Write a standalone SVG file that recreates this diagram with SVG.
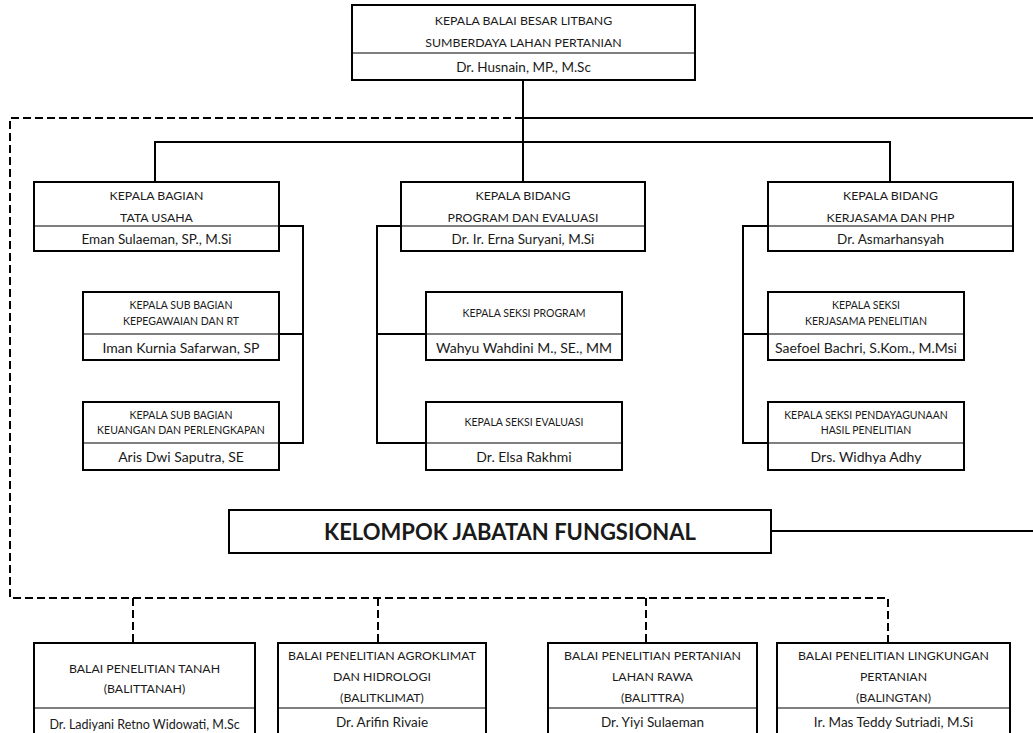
<svg xmlns="http://www.w3.org/2000/svg" width="1033" height="733" viewBox="0 0 1033 733">
<style>
.box{fill:#fff;stroke:#000;stroke-width:2}
.div{stroke:#000;stroke-width:1.2}
.ln{fill:none;stroke:#000;stroke-width:2}
.dash{fill:none;stroke:#000;stroke-width:2;stroke-dasharray:8 4}
text{font-family:Lato,"Liberation Sans",sans-serif;fill:#1a1a1a;text-anchor:middle;dominant-baseline:central}
.t{font-size:12.3px}
.n{font-size:13.5px}
.s{font-size:10.5px}
.sn{font-size:14px}
.big{font-size:22px;font-weight:bold}
</style>
<rect width="1033" height="733" fill="#fff"/>
<g id="connectors">
<path class="ln" d="M523 80V182M155 182V142H890V182M523 118H1033"/>
<path class="dash" d="M523 118H10V598H888V643M133 598V643M378 598V643M646 598V643"/>
<path class="ln" d="M279 226H303V443H279M303 334H279"/>
<path class="ln" d="M401 226H377V443H426M377 334H426"/>
<path class="ln" d="M768 226H743V443H768M743 334H768"/>
<path class="ln" d="M771 531H1033"/>
</g>
<g id="top">
<rect class="box" x="352" y="5" width="343" height="75"/>
<line class="div" x1="352" y1="53" x2="695" y2="53"/>
<text class="t" x="523.5" y="20">KEPALA BALAI BESAR LITBANG</text>
<text class="t" x="523.5" y="42">SUMBERDAYA LAHAN PERTANIAN</text>
<text class="n" x="523.5" y="67">Dr. Husnain, MP., M.Sc</text>
</g>
<g id="tatausaha">
<rect class="box" x="34" y="182" width="245" height="69"/>
<line class="div" x1="34" y1="226" x2="279" y2="226"/>
<text class="t" x="156.5" y="195">KEPALA BAGIAN</text>
<text class="t" x="156.5" y="217">TATA USAHA</text>
<text class="n" x="156.5" y="239">Eman Sulaeman, SP., M.Si</text>
</g>
<g id="program">
<rect class="box" x="401" y="182" width="244" height="69"/>
<line class="div" x1="401" y1="226" x2="645" y2="226"/>
<text class="t" x="523" y="195">KEPALA BIDANG</text>
<text class="t" x="523" y="217">PROGRAM DAN EVALUASI</text>
<text class="n" x="523" y="239">Dr. Ir. Erna Suryani, M.Si</text>
</g>
<g id="kerjasama">
<rect class="box" x="768" y="182" width="245" height="69"/>
<line class="div" x1="768" y1="226" x2="1013" y2="226"/>
<text class="t" x="890.5" y="195">KEPALA BIDANG</text>
<text class="t" x="890.5" y="217">KERJASAMA DAN PHP</text>
<text class="n" x="890.5" y="239">Dr. Asmarhansyah</text>
</g>
<g id="kepegawaian">
<rect class="box" x="83" y="292" width="196" height="68"/>
<line class="div" x1="83" y1="334" x2="279" y2="334"/>
<text class="s" x="181" y="305">KEPALA SUB BAGIAN</text>
<text class="s" x="181" y="321">KEPEGAWAIAN DAN RT</text>
<text class="sn" x="181" y="347">Iman Kurnia Safarwan, SP</text>
</g>
<g id="keuangan">
<rect class="box" x="83" y="402" width="196" height="68"/>
<line class="div" x1="83" y1="443" x2="279" y2="443"/>
<text class="s" x="181" y="415">KEPALA SUB BAGIAN</text>
<text class="s" x="181" y="430">KEUANGAN DAN PERLENGKAPAN</text>
<text class="sn" x="181" y="456">Aris Dwi Saputra, SE</text>
</g>
<g id="seksiprogram">
<rect class="box" x="426" y="292" width="196" height="68"/>
<line class="div" x1="426" y1="334" x2="622" y2="334"/>
<text class="s" x="524" y="313">KEPALA SEKSI PROGRAM</text>
<text class="sn" x="524" y="347">Wahyu Wahdini M., SE., MM</text>
</g>
<g id="seksievaluasi">
<rect class="box" x="426" y="402" width="196" height="68"/>
<line class="div" x1="426" y1="443" x2="622" y2="443"/>
<text class="s" x="524" y="422">KEPALA SEKSI EVALUASI</text>
<text class="sn" x="524" y="456">Dr. Elsa Rakhmi</text>
</g>
<g id="seksikerjasama">
<rect class="box" x="768" y="292" width="196" height="68"/>
<line class="div" x1="768" y1="334" x2="964" y2="334"/>
<text class="s" x="866" y="305">KEPALA SEKSI</text>
<text class="s" x="866" y="321">KERJASAMA PENELITIAN</text>
<text class="sn" x="866" y="347">Saefoel Bachri, S.Kom., M.Msi</text>
</g>
<g id="seksipendayagunaan">
<rect class="box" x="768" y="402" width="196" height="68"/>
<line class="div" x1="768" y1="443" x2="964" y2="443"/>
<text class="s" x="866" y="415">KEPALA SEKSI PENDAYAGUNAAN</text>
<text class="s" x="866" y="430">HASIL PENELITIAN</text>
<text class="sn" x="866" y="456">Drs. Widhya Adhy</text>
</g>
<g id="kelompok">
<rect class="box" x="229" y="510" width="542" height="43"/>
<text class="big" x="510" y="531">KELOMPOK JABATAN FUNGSIONAL</text>
</g>
<g id="balittanah">
<rect class="box" x="34" y="643" width="221" height="97"/>
<line class="div" x1="34" y1="708" x2="255" y2="708"/>
<text class="t" x="144.5" y="668">BALAI PENELITIAN TANAH</text>
<text class="t" x="144.5" y="688">(BALITTANAH)</text>
<text x="144.5" y="724" style="font-size:12.5px">Dr. Ladiyani Retno Widowati, M.Sc</text>
</g>
<g id="balitklimat">
<rect class="box" x="278" y="643" width="208" height="97"/>
<line class="div" x1="278" y1="708" x2="486" y2="708"/>
<text class="t" x="382" y="655">BALAI PENELITIAN AGROKLIMAT</text>
<text class="t" x="382" y="676">DAN HIDROLOGI</text>
<text class="t" x="382" y="697">(BALITKLIMAT)</text>
<text class="n" x="382" y="722">Dr. Arifin Rivaie</text>
</g>
<g id="balittra">
<rect class="box" x="548" y="643" width="209" height="97"/>
<line class="div" x1="548" y1="708" x2="757" y2="708"/>
<text class="t" x="652.5" y="655">BALAI PENELITIAN PERTANIAN</text>
<text class="t" x="652.5" y="676">LAHAN RAWA</text>
<text class="t" x="652.5" y="697">(BALITTRA)</text>
<text class="n" x="652.5" y="722">Dr. Yiyi Sulaeman</text>
</g>
<g id="balingtan">
<rect class="box" x="777" y="643" width="233" height="97"/>
<line class="div" x1="777" y1="708" x2="1010" y2="708"/>
<text class="t" x="893.5" y="655">BALAI PENELITIAN LINGKUNGAN</text>
<text class="t" x="893.5" y="676">PERTANIAN</text>
<text class="t" x="893.5" y="697">(BALINGTAN)</text>
<text class="n" x="893.5" y="722">Ir. Mas Teddy Sutriadi, M.Si</text>
</g>
</svg>
